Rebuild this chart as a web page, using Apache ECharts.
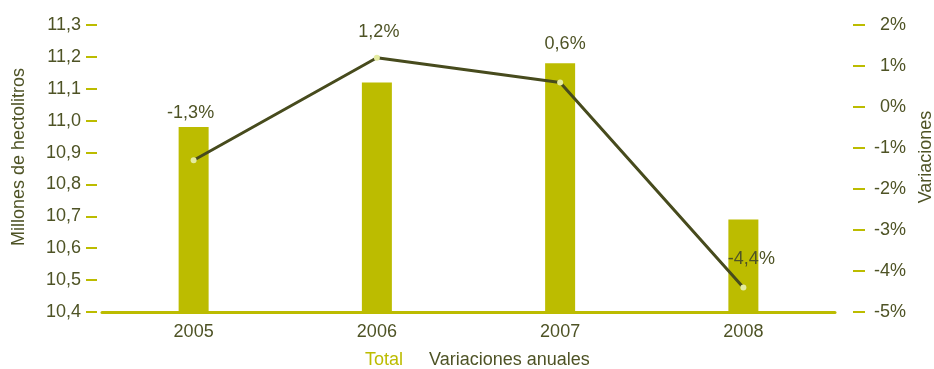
<!DOCTYPE html>
<html>
<head>
<meta charset="utf-8">
<script src="https://cdn.jsdelivr.net/npm/echarts@6/dist/echarts.min.js"></script>
<style>
  html, body { margin: 0; padding: 0; background: #fff; }
  #chart { width: 934px; height: 369px; }
</style>
</head>
<body>
<div id="chart"></div>
<script>
// Annual volume (millions of hectolitres) and year-on-year variation (%)
const years = ['2005', '2006', '2007', '2008'];
const totalVolume = [10.98, 11.12, 11.18, 10.69];
const annualChange = [-1.3, 1.2, 0.6, -4.4];

const OLIVE = '#bcbc00';
const DARK = '#4e5325';
const LINE = '#474b1d';
const FONT = 'Liberation Sans, Arial, sans-serif';

// per-point nudges for the percentage labels
const labelOffsets = [[-3, -30], [2, -9], [5, -21], [8, -11]];

const comma = (v, d) => v.toFixed(d).replace('.', ',');

const chart = echarts.init(document.getElementById('chart'));
chart.setOption({
  animation: false,
  textStyle: { fontFamily: FONT },
  grid: { left: 102, right: 99, top: 25, bottom: 57 },
  legend: {
    left: 355, top: 346,
    icon: 'none', itemWidth: 0, itemHeight: 0, itemGap: 21,
    selectedMode: false,
    textStyle: { fontSize: 18, fontFamily: FONT },
    data: [
      { name: 'Total', textStyle: { color: OLIVE } },
      { name: 'Variaciones anuales', textStyle: { color: DARK } }
    ]
  },
  xAxis: {
    type: 'category',
    data: years,
    z: 3,
    axisLine: { onZero: false, lineStyle: { color: OLIVE, width: 3 } },
    axisTick: { show: false },
    axisLabel: { color: DARK, fontSize: 18, margin: 11 }
  },
  yAxis: [
    {
      type: 'value', min: 10.4, max: 11.3, interval: 0.1,
      offset: 5,
      axisLine: { show: false },
      axisTick: { show: true, length: 11, lineStyle: { color: OLIVE, width: 2 } },
      splitLine: { show: false },
      axisLabel: { color: DARK, fontSize: 18, margin: 16, formatter: v => comma(v, 1) }
    },
    {
      type: 'value', min: -5, max: 2, interval: 1,
      position: 'right', offset: 18,
      axisLine: { show: false },
      axisTick: { show: true, length: 12, lineStyle: { color: OLIVE, width: 2 } },
      splitLine: { show: false },
      axisLabel: { color: DARK, fontSize: 18, margin: 53, align: 'right', formatter: v => v + '%' }
    }
  ],
  graphic: [
    {
      type: 'text', rotation: Math.PI / 2,
      style: { text: 'Millones de hectolitros', fill: DARK, font: '18px ' + FONT,
               align: 'center', verticalAlign: 'middle' },
      x: 19, y: 157
    },
    {
      type: 'text', rotation: Math.PI / 2,
      style: { text: 'Variaciones', fill: DARK, font: '18px ' + FONT,
               align: 'center', verticalAlign: 'middle' },
      x: 926, y: 157
    }
  ],
  series: [
    {
      name: 'Total',
      type: 'bar',
      yAxisIndex: 0,
      barWidth: 30,
      itemStyle: { color: OLIVE },
      data: totalVolume
    },
    {
      name: 'Variaciones anuales',
      type: 'line',
      yAxisIndex: 1,
      z: 5,
      symbol: 'circle',
      symbolSize: 6,
      lineStyle: { color: LINE, width: 3 },
      itemStyle: { color: '#e4eba0' },
      data: annualChange.map((v, i) => ({
        value: v,
        label: {
          show: true, position: 'top', distance: 5,
          offset: labelOffsets[i],
          color: DARK, fontSize: 18,
          formatter: p => comma(p.value, 1) + '%'
        }
      }))
    }
  ]
});
</script>
</body>
</html>
